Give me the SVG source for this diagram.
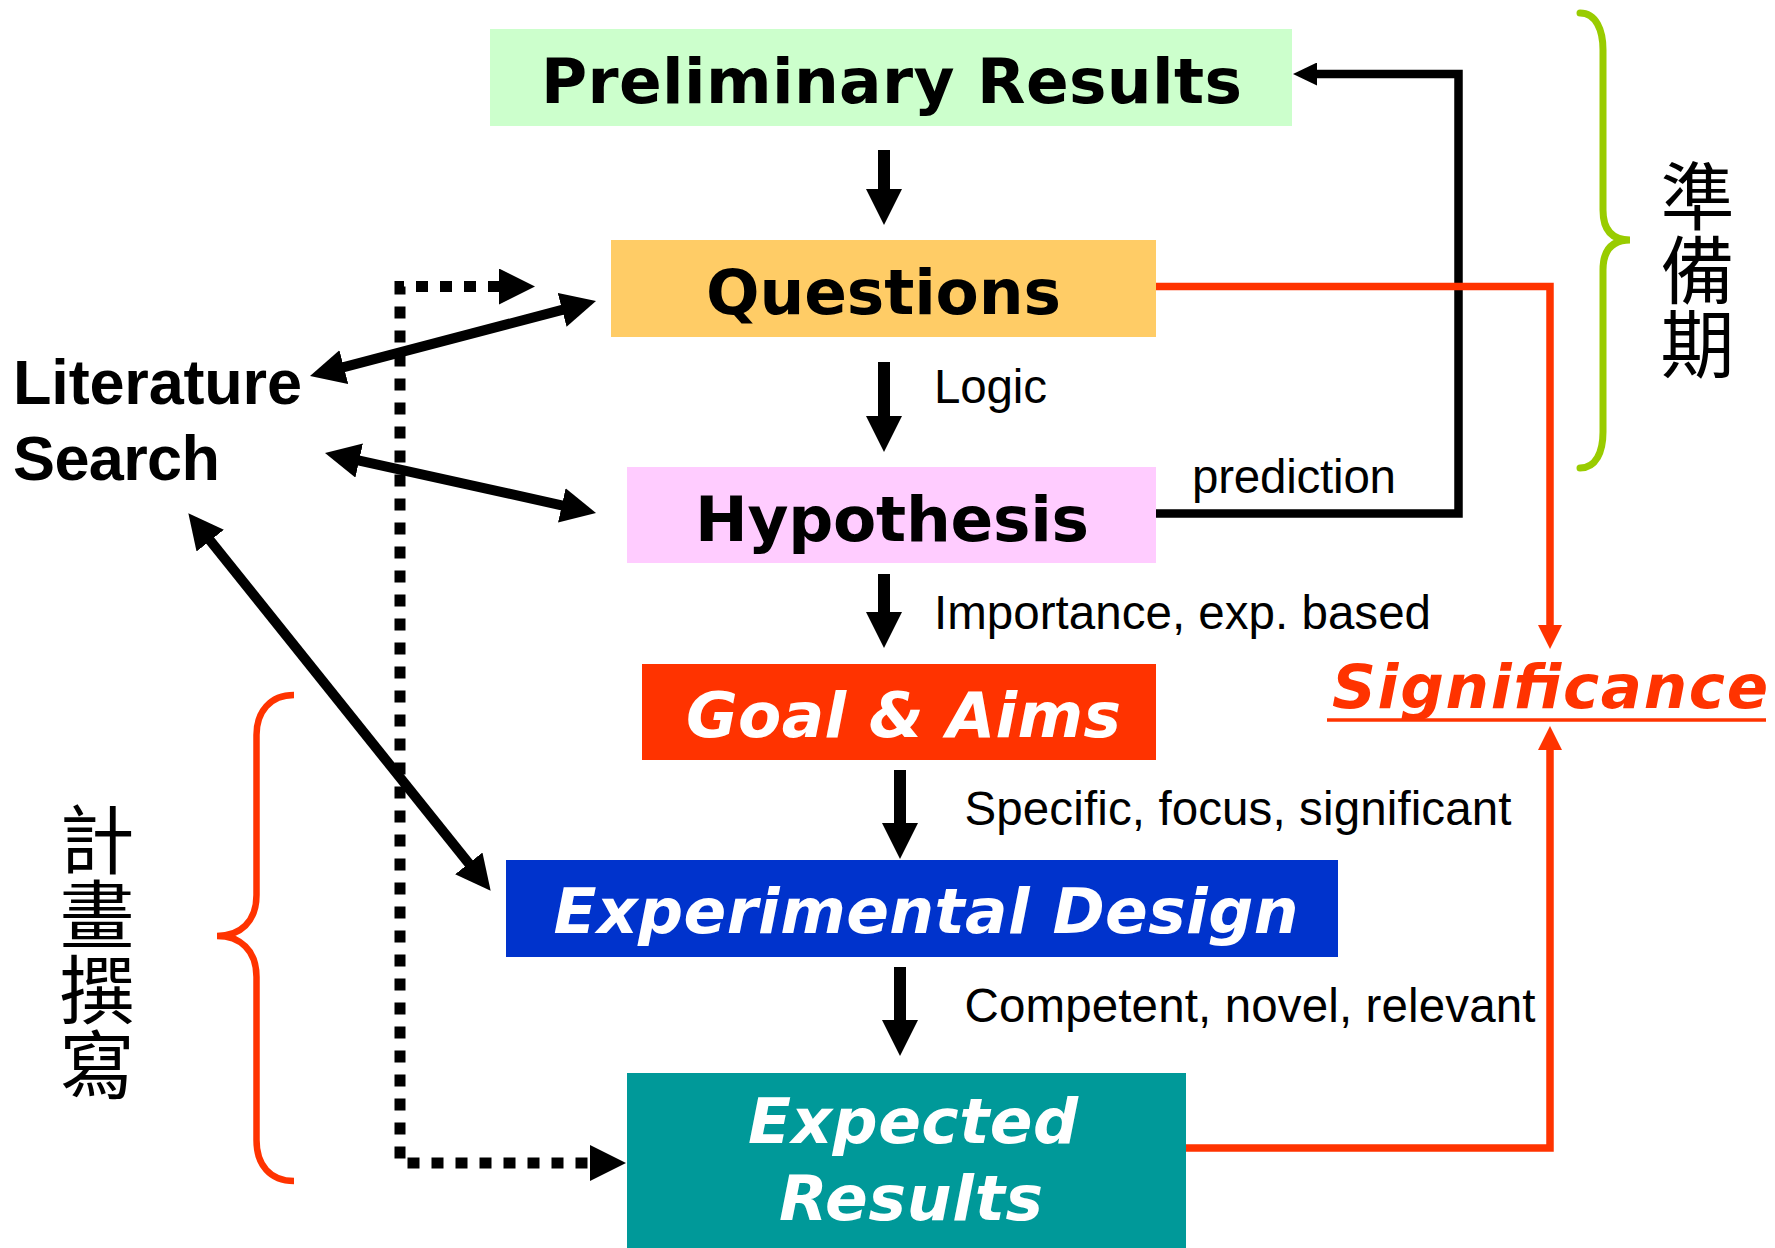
<svg xmlns="http://www.w3.org/2000/svg" width="1775" height="1248" viewBox="0 0 1775 1248">
<style>
.title{font-family:"DejaVu Sans","Verdana",sans-serif;font-weight:bold;font-size:63px;text-anchor:middle}
.it{font-style:italic;fill:#FFFFFF}
.lbl{font-family:"Liberation Sans",Arial,sans-serif;font-size:47.5px;fill:#000}
.lit{font-family:"Liberation Sans",Arial,sans-serif;font-weight:bold;font-size:63px;fill:#000}
.cjk{font-family:"Noto Sans CJK TC","Noto Sans CJK SC",sans-serif;writing-mode:vertical-rl;fill:#000}
.flow{stroke:#000;stroke-width:12;fill:none}
.lita{stroke:#000;stroke-width:10;fill:none}
.fb{stroke:#000;stroke-width:8.5;fill:none;stroke-linejoin:miter}
.red{stroke:#FF3300;stroke-width:7.5;fill:none;stroke-linejoin:miter}
.dot{stroke:#000;stroke-width:11;fill:none;stroke-dasharray:12 12}
</style>
<defs>
<marker id="hBig" markerUnits="userSpaceOnUse" viewBox="0 -18 36 36" markerWidth="36" markerHeight="36" refX="1" refY="0" orient="auto-start-reverse"><path d="M0,-18 L36,0 L0,18 z" fill="#000"/></marker>
<marker id="hLit" markerUnits="userSpaceOnUse" viewBox="0 -17.5 35 35" markerWidth="35" markerHeight="35" refX="1" refY="0" orient="auto-start-reverse"><path d="M0,-17.5 L35,0 L0,17.5 z" fill="#000"/></marker>
<marker id="hSmall" markerUnits="userSpaceOnUse" viewBox="0 -11.5 24 23" markerWidth="24" markerHeight="23" refX="1" refY="0" orient="auto-start-reverse"><path d="M0,-11.5 L24,0 L0,11.5 z" fill="#000"/></marker>
<marker id="hRed" markerUnits="userSpaceOnUse" viewBox="0 -12 24 24" markerWidth="24" markerHeight="24" refX="1" refY="0" orient="auto-start-reverse"><path d="M0,-12 L24,0 L0,12 z" fill="#FF3300"/></marker>
</defs>
<rect width="1775" height="1248" fill="#FFFFFF"/>

<g id="connectors">
<line class="flow" x1="884" y1="150" x2="884" y2="190" marker-end="url(#hBig)"/>
<line class="flow" x1="884" y1="362" x2="884" y2="417" marker-end="url(#hBig)"/>
<line class="flow" x1="884" y1="574" x2="884" y2="613" marker-end="url(#hBig)"/>
<line class="flow" x1="900" y1="770" x2="900" y2="824" marker-end="url(#hBig)"/>
<line class="flow" x1="900" y1="967" x2="900" y2="1021" marker-end="url(#hBig)"/>
<line class="lita" x1="342.9" y1="367.4" x2="563.1" y2="309.6" marker-start="url(#hLit)" marker-end="url(#hLit)"/>
<line class="lita" x1="358.2" y1="460.3" x2="562.8" y2="505.6" marker-start="url(#hLit)" marker-end="url(#hLit)"/>
<line class="lita" x1="209.6" y1="539.8" x2="469.4" y2="864.2" marker-start="url(#hLit)" marker-end="url(#hLit)"/>
<path class="dot" d="M500,286.5 H400 V1163 H591" marker-start="url(#hBig)" marker-end="url(#hBig)"/>
<path class="fb" d="M1156,513.5 H1458.5 V74 H1316" marker-end="url(#hSmall)"/>
<path class="red" d="M1156,286.5 H1550 V626" marker-end="url(#hRed)"/>
<path class="red" d="M1186,1148 H1550 V749" marker-end="url(#hRed)"/>
</g>

<g id="preliminary-results">
<rect x="490" y="29" width="802" height="97" fill="#CCFFCC"/>
<text class="title" x="891.5" y="103" textLength="701">Preliminary Results</text>
</g>
<g id="questions">
<rect x="611" y="240" width="545" height="97" fill="#FFCC66"/>
<text class="title" x="883.5" y="314" textLength="355">Questions</text>
</g>
<g id="hypothesis">
<rect x="627" y="467" width="529" height="96" fill="#FFCCFF"/>
<text class="title" x="892" y="541" textLength="394">Hypothesis</text>
</g>
<g id="goal-aims">
<rect x="642" y="664" width="514" height="96" fill="#FF3300"/>
<text class="title it" x="903.5" y="737" textLength="435">Goal &amp; Aims</text>
</g>
<g id="experimental-design">
<rect x="506" y="860" width="832" height="97" fill="#0033CC"/>
<text class="title it" x="926" y="933" textLength="745">Experimental Design</text>
</g>
<g id="expected-results">
<rect x="627" y="1073" width="559" height="175" fill="#009999"/>
<text class="title it" x="913" y="1143" textLength="330">Expected</text>
<text class="title it" x="911" y="1219.5" textLength="264">Results</text>
</g>
<g id="literature-search">
<text class="lit" x="13" y="403.5" textLength="289">Literature</text>
<text class="lit" x="13" y="480" textLength="207">Search</text>
</g>
<g id="significance">
<text x="1332" y="708" textLength="436" style="font-family:'DejaVu Sans',Verdana,sans-serif;font-weight:bold;font-style:italic;font-size:61px;fill:#FF3300">Significance</text>
<line x1="1327" y1="720" x2="1766" y2="720" stroke="#FF3300" stroke-width="3.5"/>
</g>
<g id="labels">
<text class="lbl" x="934" y="402.5" textLength="113">Logic</text>
<text class="lbl" x="1192" y="493" textLength="204">prediction</text>
<text class="lbl" x="934" y="629" textLength="497">Importance, exp. based</text>
<text class="lbl" x="964.5" y="824.5" textLength="547">Specific, focus, significant</text>
<text class="lbl" x="964.5" y="1022" textLength="571">Competent, novel, relevant</text>
</g>
<g id="phase-preparation">
<path d="M1580,13 C1596,13 1603,30 1603,50 V210 C1603,230 1612,240 1630,240 C1612,240 1603,250 1603,270 V432 C1603,452 1596,468 1580,468" stroke="#99CC00" stroke-width="7" fill="none" stroke-linecap="round"/>
<text class="cjk" x="1697.5" y="159" font-size="74">準備期</text>
</g>
<g id="phase-writing">
<path d="M294,695 C270,695 256.5,712 256.5,735 V895 C256.5,922 240,936 217,936 C240,936 256.5,950 256.5,977 V1140 C256.5,1165 270,1181 294,1181" stroke="#FF3300" stroke-width="6.5" fill="none"/>
<text class="cjk" x="97" y="802" font-size="75">計畫撰寫</text>
</g>
</svg>
